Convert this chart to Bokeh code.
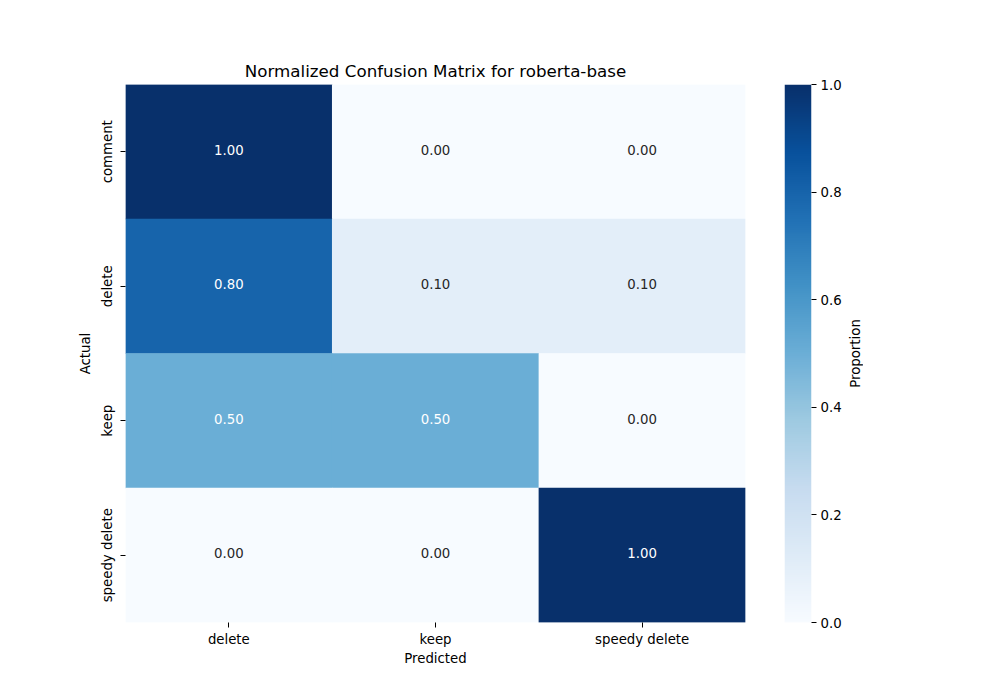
import numpy as np
from bokeh.plotting import figure
from bokeh.models import ColumnDataSource, LinearColorMapper, FixedTicker, PrintfTickFormatter, Range1d
from bokeh.transform import transform
from bokeh.layouts import row
from bokeh.palettes import Blues256
from bokeh.embed import file_html
from bokeh.resources import INLINE

predicted = ["delete", "keep", "speedy delete"]
actual = ["comment", "delete", "keep", "speedy delete"]
matrix = [
    [1.00, 0.00, 0.00],
    [0.80, 0.10, 0.10],
    [0.50, 0.50, 0.00],
    [0.00, 0.00, 1.00],
]
cbar_ticks = [0.0, 0.2, 0.4, 0.6, 0.8, 1.0]
title = "Normalized Confusion Matrix for roberta-base"
cbar_label = "Proportion"

FONT = "DejaVu Sans"
palette = list(reversed(Blues256))
mapper = LinearColorMapper(palette=palette, low=0.0, high=1.0)

xs, ys, vals, labels, tcolors = [], [], [], [], []
for i, a in enumerate(actual):
    for j, pr in enumerate(predicted):
        v = matrix[i][j]
        xs.append(pr)
        ys.append(a)
        vals.append(v)
        labels.append(f"{v:.2f}")
        tcolors.append("white" if v >= 0.5 else "#262626")
src = ColumnDataSource(dict(x=xs, y=ys, v=vals, label=labels, tc=tcolors))

p = figure(x_range=predicted, y_range=list(reversed(actual)),
           frame_width=620, frame_height=538,
           min_border_left=125, min_border_top=84, min_border_bottom=70, min_border_right=19,
           output_backend="svg", toolbar_location=None, title=title)
p.rect(x="x", y="y", width=1.002, height=1.002, source=src,
       fill_color=transform("v", mapper), line_color=None)
p.text(x="x", y="y", text="label", source=src, text_color="tc",
       text_align="center", text_baseline="middle", y_offset=-2,
       text_font={"value": FONT}, text_font_size="13.3px")

p.title.align = "center"
p.title.text_font = FONT
p.title.text_font_size = "16.7px"
p.title.text_font_style = "normal"
p.title.text_color = "black"
p.title.standoff = 8
p.outline_line_color = None
p.grid.grid_line_color = None
p.background_fill_color = "white"
for ax in (p.xaxis[0], p.yaxis[0]):
    ax.axis_line_color = None
    ax.major_tick_line_color = "black"
    ax.major_tick_out = 5
    ax.major_tick_in = 0
    ax.minor_tick_line_color = None
    ax.major_label_text_font = FONT
    ax.major_label_text_font_size = "13.3px"
    ax.major_label_text_color = "black"
    ax.axis_label_text_font = FONT
    ax.axis_label_text_font_size = "13.3px"
    ax.axis_label_text_font_style = "normal"
    ax.axis_label_text_color = "black"
p.xaxis.axis_label = "Predicted"
p.yaxis.axis_label = "Actual"
p.yaxis.major_label_orientation = "vertical"
p.xaxis.major_label_standoff = 4
p.yaxis.major_label_standoff = 6
p.xaxis.axis_label_standoff = 1
p.yaxis.axis_label_standoff = 4

# colorbar figure
c = figure(x_range=Range1d(0, 1), y_range=Range1d(0, 1),
           frame_width=27, frame_height=538,
           min_border_left=20, min_border_top=84, min_border_bottom=70, min_border_right=32,
           output_backend="svg", toolbar_location=None, y_axis_location="right")
grad = np.linspace(0, 1, 256).reshape(256, 1)
c.image(image=[grad], x=0, y=0, dw=1, dh=1, color_mapper=mapper)
c.xaxis.visible = False
c.grid.grid_line_color = None
c.outline_line_color = None
ax = c.yaxis[0]
ax.ticker = FixedTicker(ticks=cbar_ticks)
ax.formatter = PrintfTickFormatter(format="%.1f")
ax.axis_line_color = None
ax.major_tick_line_color = "black"
ax.major_tick_out = 5
ax.major_tick_in = 0
ax.minor_tick_line_color = None
ax.major_label_text_font = FONT
ax.major_label_text_font_size = "13.3px"
ax.major_label_text_color = "black"
ax.major_label_standoff = 4

# colorbar title holder (left axis label reads bottom-to-top)
d = figure(x_range=Range1d(0, 1), y_range=Range1d(0, 1),
           frame_width=1, frame_height=538,
           min_border_left=12, min_border_top=84, min_border_bottom=70, min_border_right=0,
           output_backend="svg", toolbar_location=None)
d.xaxis.visible = False
d.grid.grid_line_color = None
d.outline_line_color = None
dax = d.yaxis[0]
dax.ticker = FixedTicker(ticks=[])
dax.axis_line_color = None
dax.major_tick_line_color = None
dax.minor_tick_line_color = None
dax.major_label_text_font_size = "0px"
dax.major_label_standoff = 0
dax.axis_label = cbar_label
dax.axis_label_standoff = 0
dax.axis_label_text_font = FONT
dax.axis_label_text_font_size = "13.3px"
dax.axis_label_text_font_style = "normal"
dax.axis_label_text_color = "black"

layout = row(p, c, d)
open("out.html", "w").write(file_html(layout, INLINE))
